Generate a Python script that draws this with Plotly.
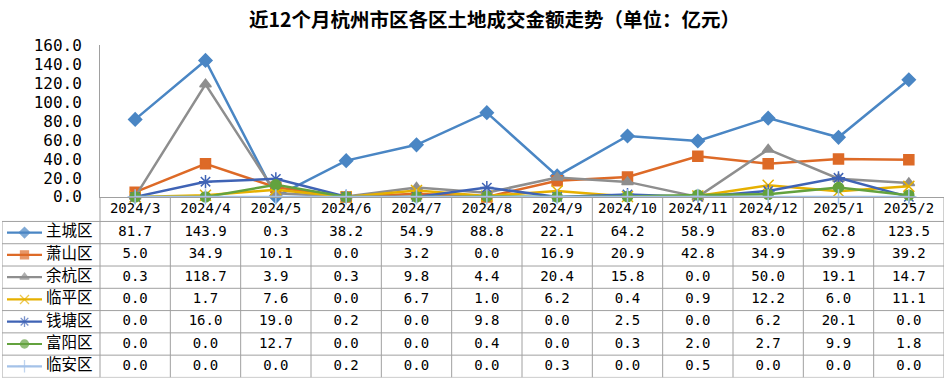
import plotly.graph_objects as go

# ---------------- data ----------------
months = ["2024/3", "2024/4", "2024/5", "2024/6", "2024/7", "2024/8",
          "2024/9", "2024/10", "2024/11", "2024/12", "2025/1", "2025/2"]
districts = ["主城区", "萧山区", "余杭区", "临平区", "钱塘区", "富阳区", "临安区"]
zhucheng = [81.7, 143.9, 0.3, 38.2, 54.9, 88.8, 22.1, 64.2, 58.9, 83.0, 62.8, 123.5]
xiaoshan = [5.0, 34.9, 10.1, 0.0, 3.2, 0.0, 16.9, 20.9, 42.8, 34.9, 39.9, 39.2]
yuhang = [0.3, 118.7, 3.9, 0.3, 9.8, 4.4, 20.4, 15.8, 0.0, 50.0, 19.1, 14.7]
linping = [0.0, 1.7, 7.6, 0.0, 6.7, 1.0, 6.2, 0.4, 0.9, 12.2, 6.0, 11.1]
qiantang = [0.0, 16.0, 19.0, 0.2, 0.0, 9.8, 0.0, 2.5, 0.0, 6.2, 20.1, 0.0]
fuyang = [0.0, 0.0, 12.7, 0.0, 0.0, 0.4, 0.0, 0.3, 2.0, 2.7, 9.9, 1.8]
linan = [0.0, 0.0, 0.0, 0.2, 0.0, 0.0, 0.3, 0.0, 0.5, 0.0, 0.0, 0.0]
series = [zhucheng, xiaoshan, yuhang, linping, qiantang, fuyang, linan]
y_ticks = [0, 20, 40, 60, 80, 100, 120, 140, 160]
title = "近12个月杭州市区各区土地成交金额走势（单位：亿元）"

# ---------------- styles ----------------
colors = ["#4A86C4", "#DD6A27", "#8E8E8E", "#E6B000", "#3F63B5", "#63A23E", "#A4C2E8"]
symbols = ["diamond", "square", "triangle-up", "x-thin-open", "asterisk-open", "circle", "cross-thin-open"]
msizes = [10, 10, 10, 11, 11, 10, 11]

W, H = 947, 390
px_left_tab, px_axis, px_right = 2, 100, 944
px_top_plot, px_axis_y, px_bottom_tab = 38, 197.5, 387.3
unit_x = (px_right - px_axis) / len(months)
row_h = 23.4
head_units = (223.3 - px_axis_y) / row_h
x3_min = -0.5 - (px_axis - px_left_tab) / unit_x
y3_top = -0.5 - head_units
nrows = len(districts)

mono = "DejaVu Sans Mono"
cjk = "Noto Sans CJK SC"
grid_c = "#A0A0A0"

fig = go.Figure()

# lines
for i, (name, vals) in enumerate(zip(districts, series)):
    fig.add_trace(go.Scatter(
        x=months, y=vals, mode="lines+markers", name=name,
        line=dict(color=colors[i], width=2.5),
        marker=dict(symbol=symbols[i], size=msizes[i], color=colors[i],
                    line=dict(color=colors[i], width=1.5)),
        cliponaxis=False, showlegend=False, xaxis="x", yaxis="y"))

# table: header text
fig.add_trace(go.Scatter(
    x=list(range(len(months))), y=[-0.5 - head_units / 2] * len(months),
    mode="text", text=months, textfont=dict(family=mono, size=14, color="#000"),
    xaxis="x3", yaxis="y3", showlegend=False, cliponaxis=False, hoverinfo="skip"))

# table: values
for r, vals in enumerate(series):
    fig.add_trace(go.Scatter(
        x=list(range(len(months))), y=[r] * len(months), mode="text",
        text=[f"{v:.1f}" for v in vals],
        textfont=dict(family=mono, size=14, color="#000"),
        xaxis="x3", yaxis="y3", showlegend=False, cliponaxis=False, hoverinfo="skip"))

# table: legend keys + names
kx0 = x3_min + (7 - px_left_tab) / unit_x
kx1 = x3_min + (42 - px_left_tab) / unit_x
kxm = (kx0 + kx1) / 2
tx = x3_min + (46 - px_left_tab) / unit_x
for r, name in enumerate(districts):
    fig.add_trace(go.Scatter(
        x=[kx0, kxm, kx1], y=[r, r, r], mode="lines+markers",
        line=dict(color=colors[r], width=2.2),
        marker=dict(symbol=symbols[r], size=[0, msizes[r] - 2, 0], color=colors[r],
                    line=dict(color=colors[r], width=1.3)),
        xaxis="x3", yaxis="y3", showlegend=False, cliponaxis=False, hoverinfo="skip"))
    fig.add_trace(go.Scatter(
        x=[tx], y=[r], mode="text", text=[name], textposition="middle right",
        textfont=dict(family=cjk, size=15.5, color="#000"),
        xaxis="x3", yaxis="y3", showlegend=False, cliponaxis=False, hoverinfo="skip"))

# table grid
shapes = []
for k in range(nrows + 1):
    yy = k - 0.5
    shapes.append(dict(type="line", xref="x3", yref="y3", x0=x3_min, x1=len(months) - 0.5,
                       y0=yy, y1=yy, line=dict(color=grid_c, width=1)))
for c in range(len(months) + 1):
    xx = c - 0.5
    shapes.append(dict(type="line", xref="x3", yref="y3", x0=xx, x1=xx,
                       y0=y3_top, y1=nrows - 0.5, line=dict(color=grid_c, width=1)))
shapes.append(dict(type="line", xref="x3", yref="y3", x0=x3_min, x1=x3_min,
                   y0=-0.5, y1=nrows - 0.5, line=dict(color=grid_c, width=1)))

fig.update_layout(
    width=W, height=H, margin=dict(l=0, r=0, t=0, b=0),
    paper_bgcolor="white", plot_bgcolor="rgba(0,0,0,0)",
    shapes=shapes,
    xaxis=dict(domain=[px_axis / W, px_right / W], type="category", range=[-0.5, len(months) - 0.5],
               showticklabels=False, showgrid=False, zeroline=False,
               showline=True, linecolor=grid_c, linewidth=1, ticks=""),
    yaxis=dict(domain=[1 - px_axis_y / H, 1 - px_top_plot / H], range=[0, 160],
               tickvals=y_ticks, tickformat=".1f", showgrid=False, zeroline=False,
               showline=True, linecolor=grid_c, linewidth=1, ticks="",
               ticklabelstandoff=14,
               tickfont=dict(family=mono, size=16, color="#000")),
    xaxis3=dict(domain=[px_left_tab / W, px_right / W], range=[x3_min, len(months) - 0.5],
                visible=False, anchor="y3"),
    yaxis3=dict(domain=[1 - px_bottom_tab / H, 1 - px_axis_y / H], range=[nrows - 0.5, y3_top],
                visible=False, anchor="x3"),
    annotations=[dict(text=f"<b>{title}</b>", x=494 / W, y=1 - 10 / H, xref="paper", yref="paper",
                      showarrow=False, xanchor="center", yanchor="middle",
                      font=dict(family=cjk, size=19.5, color="#000"))],
)

fig.write_html("out.html", config={"displayModeBar": False},
               post_script="document.body.style.margin='0';document.body.style.overflow='hidden';")
